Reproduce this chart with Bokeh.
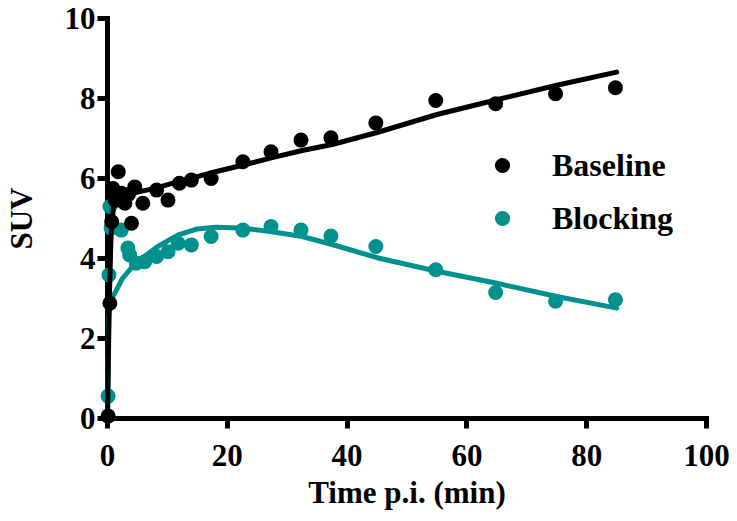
from bokeh.plotting import figure
from bokeh.models import Range1d, Legend, LegendItem, FixedTicker
from bokeh.embed import file_html
from bokeh.resources import INLINE

# ---- data ----
time_baseline = [0.1, 0.4, 0.7, 0.9, 1.3, 1.8, 2.3, 2.9, 3.5, 4.0, 4.55, 5.9, 8.2, 10.1,
                 12.0, 14.0, 17.3, 22.6, 27.3, 32.3, 37.3, 44.8, 54.8, 64.8, 74.8, 84.8]
suv_baseline = [0.06, 2.88, 4.92, 5.75, 5.45, 6.17, 5.63, 5.38, 5.6, 4.88, 5.79, 5.38, 5.71, 5.46,
                5.88, 5.96, 6.0, 6.42, 6.67, 6.96, 7.02, 7.39, 7.95, 7.87, 8.12, 8.27]

time_blocking = [0.1, 0.25, 0.4, 0.6, 2.3, 3.4, 3.7, 4.8, 6.2, 8.2, 10.1, 11.8,
                 14.0, 17.3, 22.6, 27.3, 32.3, 37.3, 44.8, 54.8, 64.8, 74.8, 84.8]
suv_blocking = [0.56, 3.59, 5.3, 4.76, 4.71, 4.26, 4.09, 3.88, 3.92, 4.05, 4.17, 4.38,
                4.34, 4.55, 4.71, 4.80, 4.71, 4.56, 4.30, 3.72, 3.15, 2.93, 2.97]

fit_time_baseline = [0, 0.3, 0.6, 1, 1.5, 2, 3, 5, 8, 12, 17, 22.5, 27.5, 32.5, 37.5,
                     45, 55, 65, 75, 85]
fit_suv_baseline = [0, 3.0, 4.6, 5.3, 5.45, 5.52, 5.58, 5.66, 5.76, 5.93, 6.13, 6.33, 6.52,
                    6.7, 6.85, 7.15, 7.6, 7.97, 8.33, 8.66]

fit_time_blocking = [0, 0.2, 0.5, 1.2, 2.5, 4.6, 8.4, 11.8, 15, 18, 22.5, 27.5, 32.5, 37.5,
                     45, 55, 65, 75, 85]
fit_suv_blocking = [0, 2.5, 2.95, 3.13, 3.5, 3.88, 4.3, 4.59, 4.74, 4.78, 4.76, 4.67, 4.55,
                    4.35, 4.02, 3.68, 3.38, 3.05, 2.76]

x_ticks = [0, 20, 40, 60, 80, 100]
y_ticks = [0, 2, 4, 6, 8, 10]

BLACK = "#000000"
TEAL = "#00918F"
FONT = "Liberation Serif"

p = figure(width=736, height=520, output_backend="svg", toolbar_location=None,
           x_range=Range1d(0, 100), y_range=Range1d(0, 10),
           min_border_left=106, min_border_right=30, min_border_top=18, min_border_bottom=102)
p.outline_line_color = None
p.xgrid.visible = False
p.ygrid.visible = False

r_k = p.scatter(time_blocking, suv_blocking, size=15, color=TEAL, line_color=None, level="overlay")
p.line(fit_time_blocking, fit_suv_blocking, line_width=5, color=TEAL, line_join="round",
       line_cap="round", level="overlay")
r_b = p.scatter(time_baseline, suv_baseline, size=15, color=BLACK, line_color=None, level="overlay")
p.line(fit_time_baseline, fit_suv_baseline, line_width=5, color=BLACK, line_join="round",
       line_cap="round", level="overlay")

for ax, ticks in ((p.xaxis[0], x_ticks), (p.yaxis[0], y_ticks)):
    ax.ticker = FixedTicker(ticks=ticks)
    ax.axis_line_width = 5
    ax.axis_line_color = BLACK
    ax.axis_line_cap = "square"
    ax.major_tick_line_width = 5
    ax.major_tick_line_color = BLACK
    ax.major_tick_in = 0
    ax.major_tick_out = 10
    ax.minor_tick_line_color = None
    ax.major_label_text_font = FONT
    ax.major_label_text_font_style = "bold"
    ax.major_label_text_font_size = "31px"
    ax.major_label_text_color = BLACK
    ax.axis_label_text_font = FONT
    ax.axis_label_text_font_style = "bold"
    ax.axis_label_text_font_size = "31px"
    ax.axis_label_text_color = BLACK

p.xaxis[0].axis_label = "Time p.i. (min)"
p.xaxis[0].major_label_standoff = 16
p.xaxis[0].axis_label_standoff = 6

p.yaxis[0].axis_label = "SUV"
p.yaxis[0].major_label_standoff = 2
p.yaxis[0].axis_label_standoff = 23

legend = Legend(items=[LegendItem(label="Baseline", renderers=[r_b]),
                       LegendItem(label="Blocking", renderers=[r_k])],
                location=(376, 181), orientation="vertical",
                glyph_width=38, glyph_height=38, label_height=38, spacing=15,
                label_standoff=31, padding=0, margin=0,
                border_line_color=None, background_fill_alpha=0,
                label_text_font=FONT, label_text_font_style="bold",
                label_text_font_size="32px", label_text_color=BLACK)
p.add_layout(legend)

open("out.html", "w").write(file_html(p, INLINE))
